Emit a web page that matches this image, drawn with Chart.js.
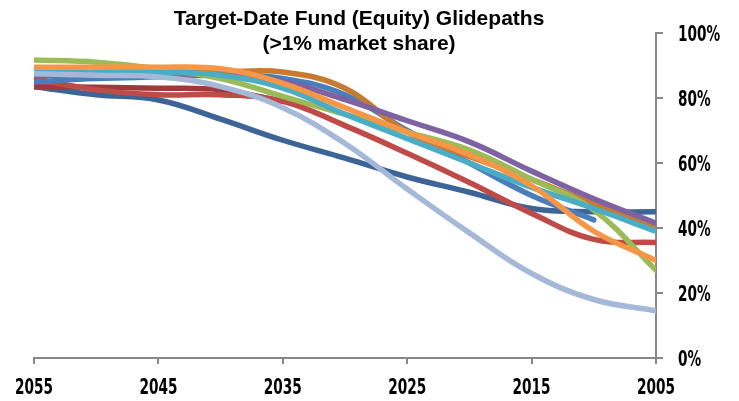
<!DOCTYPE html>
<html>
<head>
<meta charset="utf-8">
<script src="https://cdn.jsdelivr.net/npm/chart.js@4.4.0/dist/chart.umd.min.js"></script>
<style>
    html, body { margin: 0; padding: 0; background: #fff; }
</style>
</head>
<body>
<canvas id="glideChart" width="739" height="401"></canvas>
<script>
// Target years (x axis runs from 2055 down to 2005)
const years = [2055, 2050, 2045, 2040, 2035, 2030, 2025, 2020, 2015, 2010, 2005];

// Equity share (%) per fund family
const lightBlue = [87.5, 87, 86.5, 83.5, 77, 66, 52, 38.5, 26, 18, 14.5];
const orange    = [89.5, 89.5, 89.5, 89, 84.5, 77, 69.5, 62.5, 53, 39, 30];
const aqua      = [88, 88, 88, 87, 83, 75, 67.5, 60, 52.5, 46, 39];
const green     = [91.7, 91, 89, 86, 80.5, 75, 69.5, 64, 55, 45.5, 27];
const purple    = [87, 87, 87, 87, 85, 79.5, 73, 66.5, 57.5, 49, 41.5];
const brown     = [88, 88, 88, 88, 88, 83, 69.5, 62, 55, 47.5, 40.5];
const medBlue   = [85, 86, 86.5, 87, 86, 81, 70, 60, 50, 42.5, null];
const red       = [86, 82.5, 81, 81, 79, 71.5, 63, 54, 44.5, 36.5, 35.5];
const darkRed   = [83.5, 83.3, 83, 82.5, 79, null, null, null, null, null, null];
const darkBlue  = [83.5, 81, 79.4, 73.5, 67, 61.5, 55.7, 51, 46, 45, 45];

const xTicks = [2055, 2045, 2035, 2025, 2015, 2005];
const yTicks = [0, 20, 40, 60, 80, 100];
const titleLines = ['Target-Date Fund (Equity) Glidepaths', '(>1% market share)'];

const axisGrey = '#878787';

function series(values, color) {
    return {
        data: years.map((yr, i) => ({ x: yr, y: values[i] })),
        borderColor: color,
        backgroundColor: color,
        borderWidth: 5.5,
        borderCapStyle: 'round',
        tension: 0.4,
        pointRadius: 0,
        fill: false
    };
}

// first dataset is painted on top in Chart.js
const datasets = [
    series(lightBlue, '#A5B8D8'),
    series(orange, '#F79646'),
    series(aqua, '#4BACC6'),
    series(green, '#9BBB59'),
    series(purple, '#7F62A1'),
    series(brown, '#C77A32'),
    series(medBlue, '#4A7EBB'),
    series(red, '#BE4B48'),
    series(darkRed, '#9E3B3A'),
    series(darkBlue, '#3C6497')
];

// no condensed font is installed, so squeeze the text horizontally
function narrowText(ctx, text, px, py, align) {
    ctx.save();
    ctx.translate(px, py);
    ctx.scale(0.62, 1);
    ctx.textAlign = align;
    ctx.fillText(text, 0, 0);
    ctx.restore();
}

const labelPlugin = {
    id: 'glideLabels',
    afterDraw(chart) {
        const c = chart.ctx;
        const xs = chart.scales.x;
        const ys = chart.scales.y;
        c.save();
        c.fillStyle = '#000';
        c.textBaseline = 'alphabetic';

        c.font = 'bold 21px "Liberation Sans", Arial, sans-serif';
        c.textAlign = 'center';
        titleLines.forEach((line, i) => c.fillText(line, 359, 25 + i * 25));

        c.font = 'bold 22px "DejaVu Sans", sans-serif';
        xs.ticks.forEach(t => narrowText(c, String(t.value), xs.getPixelForValue(t.value), xs.top + 36, 'center'));
        ys.ticks.forEach(t => narrowText(c, t.value + '%', ys.left + 22, ys.getPixelForValue(t.value) + 8, 'left'));
        c.restore();
    }
};

const ctx = document.getElementById('glideChart').getContext('2d');
const glideChart = new Chart(ctx, {
    type: 'line',
    data: { datasets: datasets },
    plugins: [labelPlugin],
    options: {
        responsive: false,
        animation: false,
        layout: { padding: { left: 34, top: 33, right: 0, bottom: 0 } },
        plugins: {
            legend: { display: false },
            title: { display: false },
            tooltip: { enabled: false }
        },
        scales: {
            x: {
                type: 'linear',
                reverse: true,
                min: years[years.length - 1],
                max: years[0],
                afterBuildTicks: function(scale) {
                    scale.ticks = xTicks.map(v => ({ value: v }));
                },
                afterFit: function(scale) { scale.height = 43; },
                grid: { drawOnChartArea: false, color: axisGrey, lineWidth: 2, tickLength: 6 },
                border: { color: axisGrey, width: 2 },
                ticks: { display: false }
            },
            y: {
                position: 'right',
                min: 0,
                max: 100,
                afterBuildTicks: function(scale) {
                    scale.ticks = yTicks.map(v => ({ value: v }));
                },
                afterFit: function(scale) { scale.width = 83; },
                grid: { drawOnChartArea: false, color: axisGrey, lineWidth: 2, tickLength: 7 },
                border: { color: axisGrey, width: 2 },
                ticks: { display: false }
            }
        }
    }
});
</script>
</body>
</html>
